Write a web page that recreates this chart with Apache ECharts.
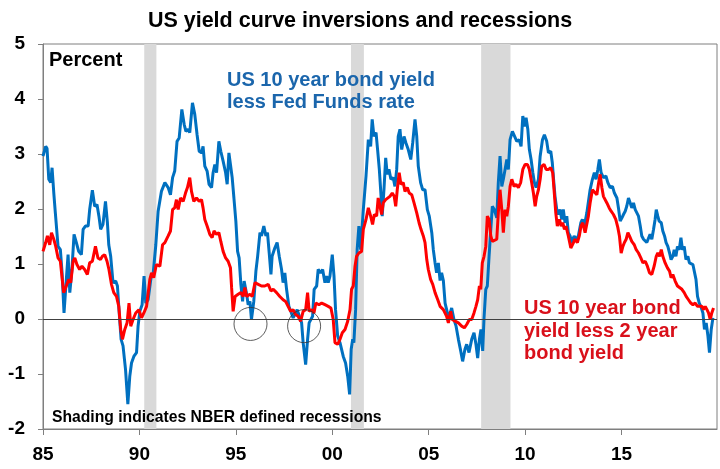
<!DOCTYPE html>
<html style="height: 100%">
<head>
    <meta charset="utf-8">
    <script src="https://cdn.jsdelivr.net/npm/echarts@6.0.0/dist/echarts.min.js"></script>
</head>
<body style="height: 100%; margin: 0; background: #fff">
    <div id="container" style="width: 720px; height: 469px"></div>
    <script type="text/javascript">
        var myChart = echarts.init(document.getElementById('container'));

        // colours
        const blueLine = '#0070C0', redLine = '#FF0000';
        const blueText = '#1B66AC', redText = '#D9101A';
        const shadeColor = '#D9D9D9', axisColor = '#7F7F7F';
        const fontFam = '"Liberation Sans", Arial, sans-serif';

        // US 10 year bond yield less Fed Funds rate  [year, percent]
        const fedFundsSpread = [
            [1985.00, 2.96], [1985.14, 3.14], [1985.21, 3.10], [1985.30, 2.54], [1985.40, 2.48], [1985.47, 2.75], [1985.56, 2.29], [1985.64, 1.93],
            [1985.78, 1.32], [1985.90, 1.26], [1985.99, 0.84], [1986.09, 0.11], [1986.21, 0.72], [1986.30, 1.17], [1986.39, 0.48], [1986.50, 0.90],
            [1986.61, 1.54], [1986.73, 1.39], [1986.85, 1.23], [1986.99, 1.17], [1987.08, 1.63], [1987.20, 1.69], [1987.34, 1.69], [1987.42, 1.99],
            [1987.56, 2.34], [1987.68, 2.05], [1987.80, 2.08], [1987.90, 1.87], [1987.99, 1.63], [1988.11, 1.72], [1988.24, 2.14], [1988.34, 1.75],
            [1988.41, 1.35], [1988.51, 1.14], [1988.63, 0.66], [1988.77, 0.69], [1988.86, 0.60], [1988.94, 0.17], [1989.05, -0.37], [1989.15, -0.49],
            [1989.28, -0.92], [1989.40, -1.55], [1989.50, -1.04], [1989.59, -0.80], [1989.71, -0.68], [1989.85, -0.61], [1989.93, -0.13], [1990.02, 0.14],
            [1990.14, 0.26], [1990.24, 0.78], [1990.33, 0.29], [1990.45, 0.35], [1990.60, 0.75], [1990.72, 0.85], [1990.85, 1.35], [1990.97, 1.96],
            [1991.14, 2.32], [1991.32, 2.48], [1991.49, 2.39], [1991.61, 2.26], [1991.72, 2.57], [1991.83, 2.69], [1991.95, 3.23], [1992.06, 3.29],
            [1992.20, 3.81], [1992.32, 3.54], [1992.41, 3.41], [1992.52, 3.45], [1992.61, 3.39], [1992.75, 3.93], [1992.87, 3.72], [1992.99, 3.35],
            [1993.10, 3.05], [1993.22, 3.02], [1993.30, 3.14], [1993.39, 2.78], [1993.51, 2.69], [1993.61, 2.45], [1993.74, 2.39], [1993.82, 2.66],
            [1993.91, 2.81], [1994.00, 2.66], [1994.12, 3.23], [1994.22, 3.05], [1994.34, 2.87], [1994.47, 2.66], [1994.55, 2.45], [1994.64, 3.02],
            [1994.72, 2.81], [1994.81, 2.57], [1994.90, 2.20], [1995.00, 1.78], [1995.09, 1.23], [1995.17, 1.11], [1995.26, 0.63], [1995.35, 0.32],
            [1995.43, 0.69], [1995.56, 0.45], [1995.64, 0.26], [1995.73, 0.32], [1995.81, -0.01], [1995.93, 0.32], [1996.04, 0.87], [1996.13, 1.14],
            [1996.25, 1.57], [1996.33, 1.51], [1996.45, 1.69], [1996.56, 1.51], [1996.64, 1.57], [1996.73, 1.20], [1996.82, 0.81], [1996.88, 1.14],
            [1997.02, 1.29], [1997.14, 1.39], [1997.25, 1.14], [1997.37, 0.90], [1997.45, 0.66], [1997.54, 0.84], [1997.63, 0.54], [1997.75, 0.23],
            [1997.85, 0.14], [1997.97, 0.02], [1998.06, 0.08], [1998.18, 0.17], [1998.28, 0.14], [1998.41, -0.07], [1998.49, -0.43], [1998.62, -0.83],
            [1998.72, -0.37], [1998.80, -0.07], [1998.89, -0.10], [1998.98, 0.05], [1999.06, 0.54], [1999.19, 0.60], [1999.27, 0.90], [1999.40, 0.84],
            [1999.50, 0.90], [1999.62, 0.66], [1999.71, 0.78], [1999.79, 0.66], [1999.88, 0.78], [2000.00, 1.17], [2000.09, 0.78], [2000.17, 0.17],
            [2000.28, -0.31], [2000.40, -0.43], [2000.49, -0.43], [2000.57, -0.68], [2000.69, -0.80], [2000.80, -1.04], [2000.90, -1.37], [2000.98, -0.55],
            [2001.06, -0.37], [2001.12, -0.43], [2001.21, 0.17], [2001.29, 1.26], [2001.38, 1.69], [2001.47, 1.26], [2001.61, 1.99], [2001.75, 2.60],
            [2001.87, 3.26], [2001.99, 3.14], [2002.07, 3.63], [2002.16, 3.32], [2002.27, 3.39], [2002.35, 3.08], [2002.44, 2.72], [2002.52, 2.29],
            [2002.59, 1.87], [2002.68, 2.35], [2002.77, 2.93], [2002.85, 2.63], [2002.94, 2.72], [2003.04, 2.54], [2003.16, 2.57], [2003.25, 2.41],
            [2003.34, 2.72], [2003.42, 3.32], [2003.51, 3.45], [2003.60, 3.08], [2003.72, 3.32], [2003.82, 3.20], [2003.94, 3.08], [2004.07, 2.90],
            [2004.17, 3.20], [2004.29, 3.63], [2004.38, 3.32], [2004.46, 2.78], [2004.58, 2.48], [2004.69, 2.35], [2004.81, 2.35], [2004.93, 1.99],
            [2005.03, 1.87], [2005.16, 1.57], [2005.24, 1.26], [2005.33, 1.02], [2005.41, 0.84], [2005.50, 1.02], [2005.59, 0.70], [2005.67, 0.84],
            [2005.76, 0.70], [2005.85, 0.29], [2005.97, 0.11], [2006.07, 0.05], [2006.19, 0.20], [2006.31, -0.01], [2006.42, -0.13], [2006.54, -0.37],
            [2006.66, -0.58], [2006.76, -0.77], [2006.88, -0.55], [2006.97, -0.46], [2007.09, -0.61], [2007.23, -0.37], [2007.35, -0.25], [2007.45, -0.46],
            [2007.54, -0.71], [2007.63, -0.37], [2007.71, -0.19], [2007.80, -0.58], [2007.87, 0.02], [2007.96, 0.54], [2008.04, 0.60], [2008.13, 1.14],
            [2008.22, 1.63], [2008.30, 2.05], [2008.40, 1.99], [2008.53, 1.84], [2008.61, 2.48], [2008.70, 2.96], [2008.79, 2.41], [2008.87, 2.54],
            [2008.96, 2.72], [2009.05, 2.90], [2009.13, 2.72], [2009.22, 3.26], [2009.34, 3.41], [2009.44, 3.39], [2009.57, 3.23], [2009.69, 3.26],
            [2009.79, 3.14], [2009.88, 3.69], [2009.96, 3.50], [2010.05, 3.66], [2010.14, 3.45], [2010.22, 3.08], [2010.31, 2.90], [2010.40, 2.66],
            [2010.48, 2.48], [2010.57, 2.39], [2010.69, 2.54], [2010.78, 2.96], [2010.90, 3.26], [2011.00, 3.35], [2011.12, 3.23], [2011.21, 3.02],
            [2011.33, 3.05], [2011.41, 2.84], [2011.49, 2.48], [2011.55, 2.23], [2011.64, 1.99], [2011.73, 1.90], [2011.81, 1.99], [2011.90, 1.81],
            [2011.98, 1.99], [2012.07, 1.75], [2012.16, 1.87], [2012.24, 1.57], [2012.33, 1.51], [2012.42, 1.39], [2012.54, 1.51], [2012.64, 1.45],
            [2012.76, 1.51], [2012.89, 1.75], [2012.97, 1.81], [2013.07, 1.69], [2013.20, 1.93], [2013.37, 2.35], [2013.49, 2.54], [2013.59, 2.66],
            [2013.68, 2.54], [2013.77, 2.72], [2013.85, 2.90], [2013.94, 2.66], [2014.06, 2.57], [2014.19, 2.60], [2014.29, 2.48], [2014.41, 2.39],
            [2014.53, 2.41], [2014.63, 2.29], [2014.76, 2.20], [2014.84, 2.02], [2014.93, 1.78], [2015.02, 1.84], [2015.10, 1.90], [2015.19, 1.96],
            [2015.27, 2.05], [2015.36, 2.20], [2015.45, 2.11], [2015.53, 2.02], [2015.62, 2.11], [2015.71, 1.99], [2015.79, 2.02], [2015.88, 1.87],
            [2015.97, 1.69], [2016.05, 1.51], [2016.14, 1.45], [2016.23, 1.48], [2016.31, 1.39], [2016.40, 1.41], [2016.48, 1.54], [2016.57, 1.45],
            [2016.66, 1.63], [2016.74, 1.81], [2016.80, 1.99], [2016.88, 1.87], [2016.95, 1.78], [2017.06, 1.75], [2017.14, 1.60], [2017.23, 1.51],
            [2017.31, 1.39], [2017.40, 1.32], [2017.49, 1.20], [2017.57, 1.08], [2017.66, 1.14], [2017.73, 1.26], [2017.82, 1.14], [2017.90, 1.32],
            [2017.99, 1.26], [2018.08, 1.48], [2018.16, 1.26], [2018.25, 1.32], [2018.34, 1.08], [2018.44, 1.14], [2018.52, 1.02], [2018.61, 1.05],
            [2018.70, 0.99], [2018.78, 1.02], [2018.86, 0.72], [2018.94, 0.41], [2019.03, 0.29], [2019.11, 0.23], [2019.22, 0.11], [2019.30, -0.19],
            [2019.39, -0.07], [2019.48, -0.31], [2019.56, -0.61], [2019.65, -0.19], [2019.74, 0.02]
        ];

        // US 10 year bond yield less 2 year bond yield  [year, percent]
        const twoYearSpread = [
            [1985.00, 1.23], [1985.14, 1.39], [1985.23, 1.51], [1985.35, 1.35], [1985.44, 1.57], [1985.56, 1.45], [1985.66, 1.32], [1985.78, 1.11],
            [1985.90, 1.05], [1985.99, 1.02], [1986.07, 0.48], [1986.21, 0.60], [1986.33, 0.72], [1986.44, 0.66], [1986.56, 1.05], [1986.65, 1.11],
            [1986.76, 0.99], [1986.90, 0.90], [1987.02, 0.96], [1987.16, 0.90], [1987.30, 0.81], [1987.42, 1.02], [1987.56, 1.05], [1987.72, 1.32],
            [1987.85, 1.11], [1987.98, 1.08], [1988.08, 1.14], [1988.20, 1.17], [1988.32, 1.05], [1988.42, 0.90], [1988.55, 0.63], [1988.67, 0.48],
            [1988.81, 0.41], [1988.93, 0.23], [1989.03, -0.19], [1989.12, -0.37], [1989.24, -0.19], [1989.36, -0.07], [1989.46, 0.29], [1989.55, -0.13],
            [1989.67, -0.01], [1989.81, 0.11], [1989.97, 0.17], [1990.11, 0.02], [1990.23, 0.11], [1990.37, 0.23], [1990.54, 0.72], [1990.63, 0.84],
            [1990.74, 0.75], [1990.88, 0.99], [1991.06, 0.96], [1991.20, 1.35], [1991.32, 1.39], [1991.49, 1.51], [1991.61, 1.60], [1991.72, 1.99],
            [1991.83, 2.02], [1991.92, 2.17], [1992.01, 1.99], [1992.13, 2.20], [1992.27, 2.14], [1992.39, 2.29], [1992.49, 2.39], [1992.61, 2.57],
            [1992.70, 2.32], [1992.82, 2.14], [1992.96, 2.20], [1993.10, 2.14], [1993.22, 2.17], [1993.30, 2.02], [1993.39, 1.81], [1993.51, 1.69],
            [1993.65, 1.54], [1993.77, 1.48], [1993.87, 1.60], [1994.00, 1.54], [1994.12, 1.57], [1994.22, 1.41], [1994.34, 1.23], [1994.47, 1.11],
            [1994.60, 1.05], [1994.72, 0.93], [1994.78, 0.57], [1994.86, 0.14], [1994.96, 0.41], [1995.12, 0.45], [1995.26, 0.48], [1995.38, 0.41],
            [1995.47, 0.57], [1995.56, 0.41], [1995.73, 0.45], [1995.85, 0.41], [1995.99, 0.66], [1996.16, 0.63], [1996.33, 0.60], [1996.50, 0.60],
            [1996.68, 0.63], [1996.82, 0.51], [1996.94, 0.54], [1997.11, 0.48], [1997.28, 0.41], [1997.45, 0.35], [1997.58, 0.32], [1997.71, 0.23],
            [1997.84, 0.14], [1997.97, 0.17], [1998.10, 0.08], [1998.23, 0.05], [1998.36, -0.04], [1998.49, 0.14], [1998.62, 0.17], [1998.72, 0.48],
            [1998.80, 0.14], [1998.93, 0.17], [1999.05, 0.11], [1999.15, 0.29], [1999.31, 0.26], [1999.45, 0.29], [1999.62, 0.26], [1999.79, 0.23],
            [1999.93, 0.20], [2000.05, -0.01], [2000.14, -0.43], [2000.28, -0.46], [2000.40, -0.37], [2000.52, -0.25], [2000.66, -0.19], [2000.80, -0.04],
            [2000.92, 0.17], [2001.00, 0.54], [2001.09, 0.60], [2001.18, 0.96], [2001.26, 1.14], [2001.38, 1.20], [2001.52, 1.23], [2001.61, 1.63],
            [2001.75, 1.81], [2001.87, 2.02], [2001.99, 1.87], [2002.09, 1.72], [2002.18, 1.90], [2002.30, 1.87], [2002.38, 2.20], [2002.47, 2.23],
            [2002.56, 1.90], [2002.64, 2.11], [2002.77, 2.17], [2002.87, 2.20], [2002.99, 2.23], [2003.11, 2.29], [2003.21, 2.23], [2003.29, 2.05],
            [2003.37, 2.35], [2003.47, 2.66], [2003.56, 2.45], [2003.68, 2.48], [2003.77, 2.32], [2003.89, 2.39], [2003.99, 2.29], [2004.12, 2.26],
            [2004.24, 2.11], [2004.38, 1.93], [2004.50, 1.75], [2004.60, 1.63], [2004.72, 1.51], [2004.81, 1.39], [2004.90, 1.08], [2004.98, 0.90],
            [2005.10, 0.72], [2005.21, 0.63], [2005.33, 0.48], [2005.47, 0.35], [2005.59, 0.23], [2005.76, 0.17], [2005.93, 0.05], [2006.02, -0.07],
            [2006.14, 0.14], [2006.22, -0.01], [2006.37, -0.04], [2006.54, -0.07], [2006.71, -0.13], [2006.85, -0.16], [2006.97, -0.10], [2007.11, -0.01],
            [2007.23, -0.01], [2007.35, 0.11], [2007.45, 0.23], [2007.54, 0.35], [2007.63, 0.60], [2007.70, 0.54], [2007.78, 1.02], [2007.87, 1.14],
            [2007.96, 1.32], [2008.04, 1.87], [2008.13, 1.81], [2008.22, 1.51], [2008.30, 1.41], [2008.40, 1.39], [2008.53, 1.45], [2008.61, 1.93],
            [2008.70, 2.35], [2008.79, 1.99], [2008.87, 1.57], [2008.96, 1.99], [2009.05, 1.87], [2009.13, 2.05], [2009.22, 2.41], [2009.31, 2.54],
            [2009.43, 2.41], [2009.53, 2.45], [2009.65, 2.39], [2009.77, 2.48], [2009.88, 2.72], [2010.00, 2.81], [2010.12, 2.81], [2010.22, 2.72],
            [2010.34, 2.48], [2010.43, 2.29], [2010.52, 2.05], [2010.60, 2.23], [2010.69, 2.35], [2010.78, 2.54], [2010.86, 2.78], [2010.98, 2.81],
            [2011.09, 2.72], [2011.21, 2.72], [2011.33, 2.75], [2011.43, 2.66], [2011.50, 2.35], [2011.59, 1.93], [2011.67, 1.69], [2011.78, 1.81],
            [2011.87, 1.69], [2011.95, 1.75], [2012.04, 1.63], [2012.12, 1.69], [2012.24, 1.51], [2012.37, 1.29], [2012.47, 1.32], [2012.59, 1.45],
            [2012.71, 1.39], [2012.81, 1.51], [2012.90, 1.69], [2012.99, 1.75], [2013.11, 1.57], [2013.20, 1.60], [2013.28, 1.87], [2013.37, 2.11],
            [2013.49, 2.35], [2013.59, 2.32], [2013.72, 2.26], [2013.80, 2.45], [2013.89, 2.63], [2013.98, 2.39], [2014.06, 2.23], [2014.15, 2.23],
            [2014.24, 2.11], [2014.36, 2.02], [2014.46, 1.96], [2014.58, 1.90], [2014.70, 1.81], [2014.81, 1.66], [2014.89, 1.51], [2014.98, 1.20],
            [2015.07, 1.32], [2015.15, 1.39], [2015.24, 1.45], [2015.33, 1.57], [2015.41, 1.51], [2015.53, 1.41], [2015.66, 1.35], [2015.76, 1.26],
            [2015.88, 1.20], [2016.00, 1.11], [2016.11, 1.02], [2016.23, 1.05], [2016.34, 0.96], [2016.45, 0.84], [2016.57, 0.81], [2016.69, 0.96],
            [2016.80, 1.14], [2016.88, 1.20], [2016.97, 1.14], [2017.06, 1.26], [2017.14, 1.14], [2017.26, 1.02], [2017.38, 0.93], [2017.49, 0.87],
            [2017.57, 0.75], [2017.66, 0.81], [2017.78, 0.69], [2017.90, 0.60], [2018.00, 0.63], [2018.13, 0.54], [2018.25, 0.48], [2018.35, 0.41],
            [2018.47, 0.35], [2018.59, 0.29], [2018.70, 0.26], [2018.82, 0.29], [2018.94, 0.23], [2019.04, 0.26], [2019.17, 0.23], [2019.25, 0.17],
            [2019.34, 0.23], [2019.43, 0.17], [2019.51, 0.11], [2019.60, -0.01], [2019.68, 0.11], [2019.77, 0.20]
        ];

        // NBER recessions as drawn (start, end)
        const recessions = [[1990.25, 1990.88], [2000.97, 2001.64], [2007.72, 2009.24]];

        // near-inversions that were circled
        const circledSpots = [[1995.76, -0.09], [1998.54, -0.13]];

        // axis ranges
        const yearRange = [1985, 2019.95];
        const pctRange = [-2, 5];

        function yy(v) {
            var s = String(Math.round(v) % 100);
            return s.length < 2 ? '0' + s : s;
        }

        // annotation text, drawn above the shading
        function note(x, y, text, size, color) {
            return {
                type: 'text', x: x, y: y, z: 100, silent: true,
                style: { text: text, font: 'bold ' + size + 'px ' + fontFam, fill: color, align: x === 360 ? 'center' : 'left', verticalAlign: 'middle' }
            };
        }

        var option = {
            animation: false,
            backgroundColor: '#fff',
            textStyle: { fontFamily: fontFam },
            grid: {
                left: 43, right: 3, top: 44, bottom: 40,
                show: true, borderColor: axisColor, borderWidth: 1,
                outerBoundsMode: 'none'
            },
            xAxis: {
                type: 'value',
                min: yearRange[0], max: yearRange[1], interval: 5,
                axisLine: { show: true, onZero: false, lineStyle: { color: axisColor, width: 1 } },
                axisTick: { show: true, inside: false, length: 6, lineStyle: { color: axisColor } },
                axisLabel: {
                    margin: 16, fontSize: 19, fontWeight: 'bold', color: '#000', fontFamily: fontFam,
                    showMaxLabel: false,
                    formatter: function (v) { return (Math.round(v) % 5 === 0) ? yy(v) : ''; }
                },
                splitLine: { show: false }
            },
            yAxis: {
                type: 'value',
                min: pctRange[0], max: pctRange[1], interval: 1,
                axisLine: { show: true, lineStyle: { color: axisColor, width: 1 } },
                axisTick: { show: true, inside: false, length: 5, lineStyle: { color: axisColor } },
                axisLabel: { margin: 18, fontSize: 19, fontWeight: 'bold', color: '#000', fontFamily: fontFam },
                splitLine: { show: false }
            },
            series: [
                // shading and zero line
                {
                    type: 'line', data: [], z: 1, silent: true,
                    markArea: {
                        silent: true,
                        itemStyle: { color: shadeColor },
                        label: { show: false },
                        data: recessions.map(function (r) { return [{ xAxis: r[0] }, { xAxis: r[1] }]; })
                    },
                    markLine: {
                        silent: true, symbol: ['none', 'none'],
                        label: { show: false },
                        lineStyle: { color: '#404040', width: 1, type: 'solid' },
                        data: [{ yAxis: 0 }]
                    }
                },
                {
                    name: 'US 10 year bond yield less Fed Funds rate', type: 'line', z: 2,
                    showSymbol: false, symbol: 'none',
                    lineStyle: { color: blueLine, width: 3 },
                    data: fedFundsSpread
                },
                {
                    name: 'US 10 year bond yield less 2 year bond yield', type: 'line', z: 3,
                    showSymbol: false, symbol: 'none',
                    lineStyle: { color: redLine, width: 3 },
                    data: twoYearSpread
                },
                {
                    type: 'scatter', z: 4, silent: true,
                    symbol: 'circle', symbolSize: 33,
                    itemStyle: { color: 'rgba(0,0,0,0)', borderColor: '#333', borderWidth: 1 },
                    data: circledSpots
                }
            ],
            graphic: [
                note(360, 21, 'US yield curve inversions and recessions', 21.5, '#000'),
                note(49, 60, 'Percent', 20, '#000'),
                note(227, 80, 'US 10 year bond yield', 20, blueText),
                note(227, 102, 'less Fed Funds rate', 20, blueText),
                note(524, 308, 'US 10 year bond', 20, redText),
                note(524, 331, 'yield less 2 year', 20, redText),
                note(524, 353, 'bond yield', 20, redText),
                note(52, 418, 'Shading indicates NBER defined recessions', 15.7, '#000')
            ]
        };

        myChart.setOption(option);
        window.addEventListener('resize', function () { myChart.resize(); });
    </script>
</body>
</html>
